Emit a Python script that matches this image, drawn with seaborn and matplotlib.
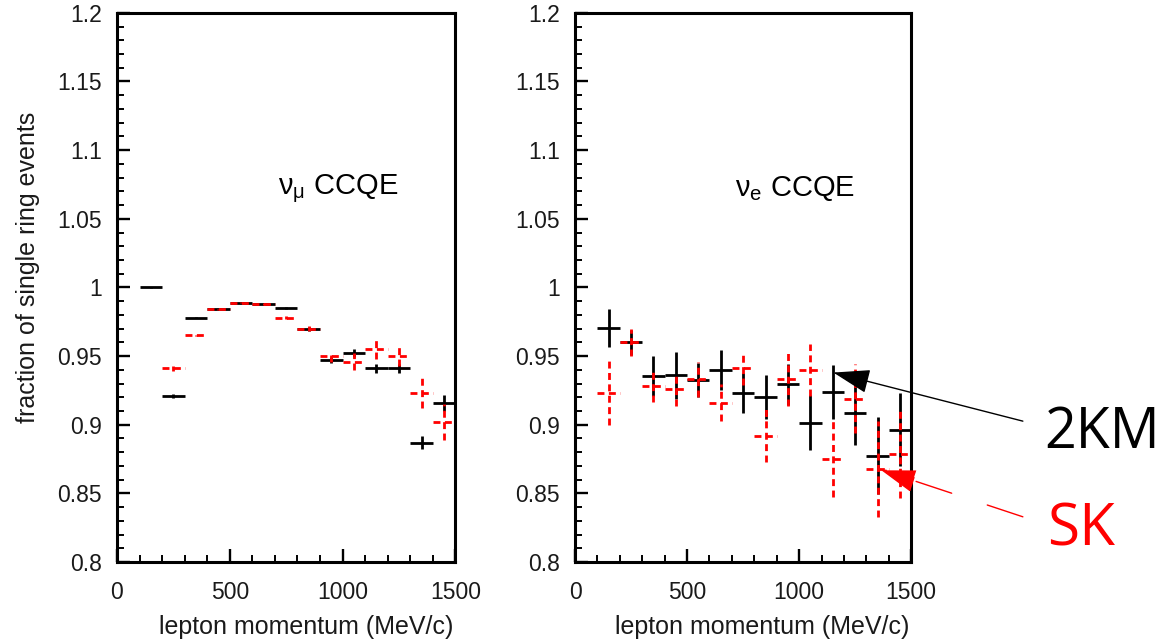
import numpy as np
import pandas as pd
import matplotlib
matplotlib.use("Agg")
import matplotlib.pyplot as plt
import seaborn as sns

# ---- data ----
centers = [150, 250, 350, 450, 550, 650, 750, 850, 950, 1050, 1150, 1250, 1350, 1450]
half_width = 50

mu_2km = [1.000, 0.921, 0.978, 0.984, 0.989, 0.988, 0.985, 0.970, 0.947, 0.952, 0.941, 0.941, 0.887, 0.916]
mu_2km_err = [0.0003, 0.0012, 0.0004, 0.0004, 0.0004, 0.0004, 0.0004, 0.0015, 0.002, 0.003, 0.003, 0.003, 0.005, 0.006]
mu_sk_centers = centers[1:]
mu_sk = [0.941, 0.965, 0.984, 0.989, 0.988, 0.978, 0.970, 0.950, 0.946, 0.955, 0.950, 0.923, 0.902]
mu_sk_err = [0.002, 0.0005, 0.0005, 0.0005, 0.0005, 0.001, 0.002, 0.004, 0.006, 0.007, 0.007, 0.011, 0.013]

e_2km = [0.9706, 0.960, 0.9355, 0.936, 0.9326, 0.9398, 0.9229, 0.9202, 0.9294, 0.9016, 0.924, 0.9088, 0.8774, 0.8962]
e_2km_err = [0.0137, 0.009, 0.0145, 0.017, 0.0125, 0.0145, 0.0145, 0.016, 0.015, 0.020, 0.0197, 0.0234, 0.028, 0.0266]
e_sk = [0.9234, 0.960, 0.928, 0.9258, 0.933, 0.916, 0.941, 0.8919, 0.933, 0.9398, 0.875, 0.919, 0.868, 0.8786]
e_sk_err = [0.0236, 0.0097, 0.0115, 0.0121, 0.0127, 0.0136, 0.0121, 0.0194, 0.0194, 0.0188, 0.028, 0.025, 0.035, 0.032]

y_ticks = [0.8, 0.85, 0.9, 0.95, 1.0, 1.05, 1.1, 1.15, 1.2]
y_ticklabels = ["0.8", "0.85", "0.9", "0.95", "1", "1.05", "1.1", "1.15", "1.2"]
x_ticks = [0, 500, 1000, 1500]
x_ticklabels = ["0", "500", "1000", "1500"]
panel_titles = [r"$\nu_{\mu}$ CCQE", r"$\nu_{e}$ CCQE"]
x_label = "lepton momentum (MeV/c)"
y_label = "fraction of single ring events"

# ---- style ----
sns.set_theme(style="ticks")
plt.rcParams["font.family"] = ["Liberation Sans", "DejaVu Sans"]
plt.rcParams["mathtext.fontset"] = "custom"
plt.rcParams["mathtext.rm"] = "Liberation Sans"
plt.rcParams["mathtext.it"] = "Liberation Sans"
plt.rcParams["mathtext.default"] = "rm"

fig = plt.figure(figsize=(11.65, 6.42), dpi=100)
ax1 = fig.add_axes([0.1004, 0.1246, 0.2905, 0.8554])
ax2 = fig.add_axes([0.4936, 0.1246, 0.2885, 0.8554])

def draw_series(ax, xs, ys, errs, color, dashed):
    df = pd.DataFrame({"x": xs, "y": ys, "err": errs})
    cont = ax.errorbar(df["x"], df["y"], xerr=half_width, yerr=df["err"], fmt="none",
                       ecolor=color, elinewidth=2.0, capsize=0, zorder=3 if dashed else 2)
    if dashed:
        for lc in cont.lines[2]:
            lc.set_linestyle((0, (2.5, 1.6)))

datasets = [
    (ax1, (centers, mu_2km, mu_2km_err), (mu_sk_centers, mu_sk, mu_sk_err)),
    (ax2, (centers, e_2km, e_2km_err), (centers, e_sk, e_sk_err)),
]

for i, (ax, blk, red) in enumerate(datasets):
    draw_series(ax, *blk, "black", False)
    draw_series(ax, *red, "red", True)
    ax.set_xlim(0, 1500)
    ax.set_ylim(0.8, 1.2)
    ax.set_yticks(y_ticks)
    ax.set_yticklabels(y_ticklabels)
    ax.set_xticks(x_ticks)
    ax.set_xticklabels(x_ticklabels)
    ax.set_yticks(np.arange(0.8, 1.2001, 0.01), minor=True)
    ax.set_xticks(np.arange(0, 1501, 100), minor=True)
    ax.tick_params(which="major", direction="in", length=9.5, width=1.7, color="black",
                   labelsize=16.5, labelcolor="#1a1a1a", pad=11,
                   top=False, right=False)
    ax.tick_params(axis="x", which="major", pad=14)
    ax.tick_params(which="minor", direction="in", length=5, width=1.4, color="black",
                   top=False, right=False)
    for s in ax.spines.values():
        s.set_linewidth(2.2)
        s.set_color("black")
        s.set_visible(True)
    ax.set_xlabel(x_label, fontsize=18, color="#1a1a1a", ha="right")
    ax.xaxis.set_label_coords(0.994, -0.097)
    ax.text(715, 1.072, panel_titles[i], fontsize=21, color="black", va="center", ha="left")
    ax.grid(False)

fig.text(28 / 1165, 1 - 267 / 642, y_label, fontsize=18, color="#1a1a1a",
         rotation=90, ha="center", va="center")

# ---- annotations ----
ax2.annotate("", xy=(1153, 0.938), xycoords="data",
             xytext=(0.878, 0.344), textcoords="figure fraction",
             arrowprops=dict(arrowstyle="-|>,head_length=0.55,head_width=0.18",
                             mutation_scale=42, color="black", lw=1.0,
                             shrinkA=0, shrinkB=0),
             annotation_clip=False)
ax2.annotate("", xy=(1363, 0.8673), xycoords="data",
             xytext=(0.878, 0.195), textcoords="figure fraction",
             arrowprops=dict(arrowstyle="-|>,head_length=0.55,head_width=0.18",
                             mutation_scale=42, color="red", lw=1.0,
                             linestyle=(0, (27, 27)), shrinkA=0, shrinkB=0),
             annotation_clip=False)
fig.text(0.8960, 0.3022, "2KM", fontsize=40, color="black", ha="left", va="baseline",
         family=["Open Sans", "DejaVu Sans"])
fig.text(0.8987, 0.151, "SK", fontsize=42, color="red", ha="left", va="baseline",
         family=["Open Sans", "DejaVu Sans"])

fig.savefig("out.png", dpi=100)
